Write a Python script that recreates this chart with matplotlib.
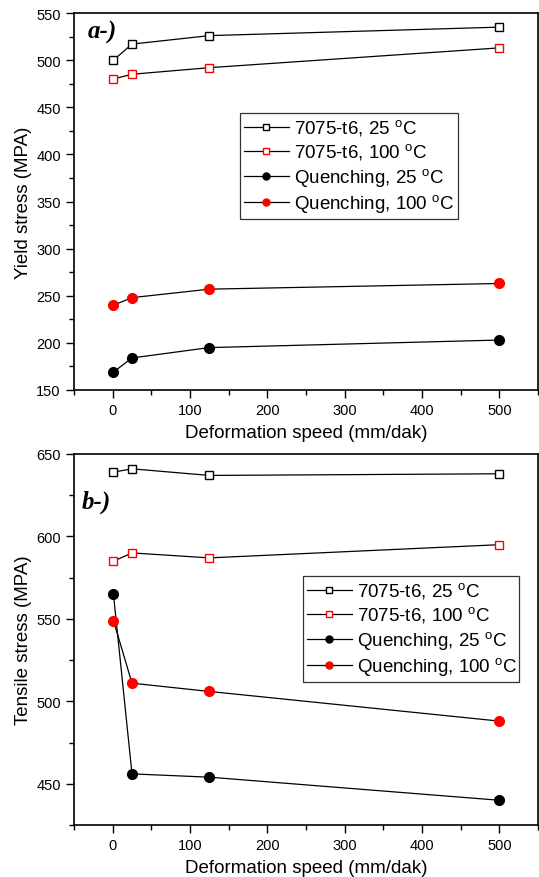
import matplotlib
matplotlib.use("Agg")
import matplotlib.pyplot as plt
from matplotlib.ticker import MultipleLocator

plt.rcParams['font.family'] = ['Liberation Sans', 'DejaVu Sans']

speed = [1, 25, 125, 500]

yield_t6_25 = [500, 517, 526, 535]
yield_t6_100 = [480, 485, 492, 513]
yield_q_25 = [169, 184, 195, 203]
yield_q_100 = [240, 248, 257, 263]

tens_t6_25 = [639, 641, 637, 638]
tens_t6_100 = [585, 590, 587, 595]
tens_q_25 = [565, 456, 454, 440]
tens_q_100 = [549, 511, 506, 488]

labels = ["7075-t6, 25 $^\\mathregular{o}$C", "7075-t6, 100 $^\\mathregular{o}$C",
          "Quenching, 25 $^\\mathregular{o}$C", "Quenching, 100 $^\\mathregular{o}$C"]

fig = plt.figure(figsize=(5.39, 8.78), dpi=100)
W, H = 539, 878
L, R = 74, 538
ax1 = fig.add_axes([L / W, 1 - 391 / H, (R - L) / W, (391 - 14) / H])
ax2 = fig.add_axes([L / W, 1 - 826 / H, (R - L) / W, (826 - 455) / H])


def draw(ax, series, ylim, ylabel, tag, tagpos, legbox, top, bottom):
    styles = [
        dict(marker='s', mfc='white', mec='black', ms=6),
        dict(marker='s', mfc='white', mec='red', ms=6),
        dict(marker='o', mfc='black', mec='black', ms=7),
        dict(marker='o', mfc='red', mec='red', ms=7),
    ]
    for vals, st, lab in zip(series, styles, labels):
        ax.plot(speed, vals, color='black', lw=0.9, label=lab, mew=1.0, **st)
    ax.set_xlim(-50, 550)
    ax.set_ylim(*ylim)
    ax.xaxis.set_major_locator(MultipleLocator(100))
    ax.xaxis.set_minor_locator(MultipleLocator(50))
    ax.yaxis.set_major_locator(MultipleLocator(50))
    ax.yaxis.set_minor_locator(MultipleLocator(25))
    ax.tick_params(which='major', direction='out', length=6, width=1, labelsize=10.5)
    ax.tick_params(which='minor', direction='out', length=3.5, width=1)
    for s in ax.spines.values():
        s.set_linewidth(1.2)
    ax.set_xlabel("Deformation speed (mm/dak)", fontsize=13.5, labelpad=5)
    ax.set_ylabel(ylabel, fontsize=13.5, labelpad=3)
    ax.text(tagpos[0], tagpos[1], tag, transform=ax.transAxes, fontsize=18,
            fontweight='bold', fontstyle='italic', family='Liberation Serif',
            va='center', ha='left')
    x0, y0, x1, y1 = legbox
    bb = ((x0 - L) / (R - L), (bottom - y1) / (bottom - top),
          (x1 - x0) / (R - L), (y1 - y0) / (bottom - top))
    leg = ax.legend(loc='center', bbox_to_anchor=bb, mode='expand', fontsize=13.5,
                    frameon=True, fancybox=False, edgecolor='black',
                    borderpad=0.2, labelspacing=0.2, handlelength=2.4,
                    handletextpad=0.3, borderaxespad=0, markerscale=0.72)
    leg.get_frame().set_linewidth(0.9)


draw(ax1, [yield_t6_25, yield_t6_100, yield_q_25, yield_q_100], (150, 550),
     "Yield stress (MPA)", "a-)", (0.03, 0.95), (240, 112, 458, 222), 14, 391)
draw(ax2, [tens_t6_25, tens_t6_100, tens_q_25, tens_q_100], (425, 650),
     "Tensile stress (MPA)", "b-)", (0.017, 0.873), (303, 576, 519, 684), 455, 826)

fig.savefig("out.png", dpi=100)
